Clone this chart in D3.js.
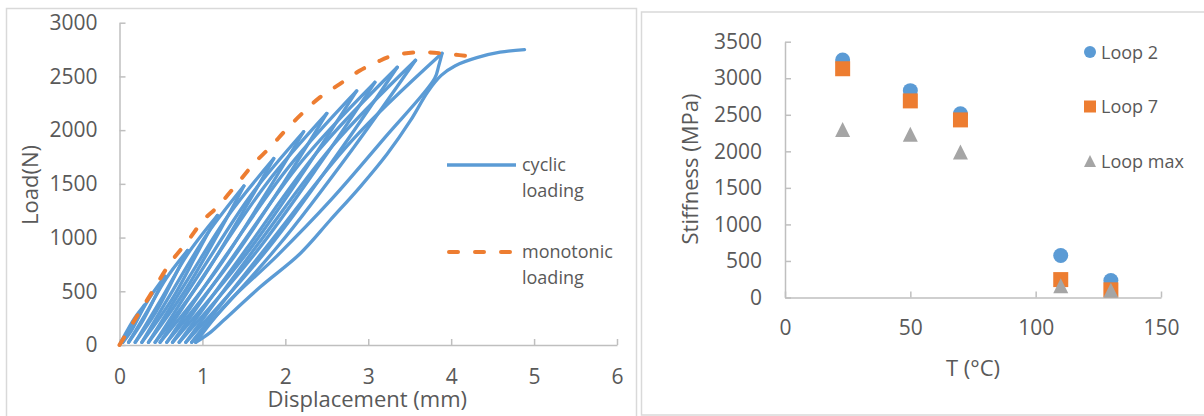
<!DOCTYPE html>
<html lang="en">
<head>
<meta charset="UTF-8">
<title>Cyclic loading and stiffness</title>
<script src="https://d3js.org/d3.v7.min.js"></script>
<style>
    body { margin: 0; background: #fff; }
    svg { display: block; font-family: "Open Sans", sans-serif; }
    .axis path, .axis line { stroke: #bfbfbf; stroke-width: 1.5; }
    .axis text { fill: #595959; font-size: 21px; }
    .title { fill: #595959; font-size: 22px; }
    .legend { fill: #595959; font-size: 18px; }
</style>
</head>
<body>
<svg id="chart" width="1204" height="416"></svg>
<script>
// ---- left chart: load vs displacement ----
const dispTicks = [0, 1, 2, 3, 4, 5, 6];
const loadTicks = [0, 500, 1000, 1500, 2000, 2500, 3000];

// monotonic test [displacement mm, load N]
const monotonic = [[0, 0], [0.17, 216], [0.37, 464], [0.61, 761], [0.83, 975], [1.01, 1161],
    [1.18, 1285], [1.42, 1502], [1.62, 1688], [1.82, 1843], [2.02, 2013], [2.24, 2183],
    [2.42, 2307], [2.66, 2431], [2.90, 2555], [3.10, 2632], [3.30, 2694], [3.63, 2725],
    [3.95, 2710], [4.31, 2679]];

// cyclic test, loading branches
const cyclicUp = [
    [[0, 0], [0.09, 130], [0.19, 259], [0.30, 370]],
    [[0.04, 25], [0.20, 224], [0.37, 448], [0.55, 640]],
    [[0.11, 25], [0.33, 308], [0.56, 616], [0.82, 880]],
    [[0.19, 25], [0.50, 422], [0.82, 844], [1.18, 1205]],
    [[0.27, 25], [0.65, 518], [1.06, 1036], [1.50, 1480]],
    [[0.35, 25], [0.82, 607], [1.32, 1215], [1.86, 1735]],
    [[0.43, 25], [0.99, 695], [1.58, 1390], [2.22, 1985]],
    [[0.49, 25], [1.11, 754], [1.78, 1509], [2.50, 2155]],
    [[0.57, 25], [1.28, 828], [2.04, 1656], [2.86, 2365]],
    [[0.64, 25], [1.40, 856], [2.20, 1712], [3.08, 2445]],
    [[0.72, 25], [1.54, 905], [2.40, 1810], [3.35, 2585]],
    [[0.80, 25], [1.66, 928], [2.57, 1855], [3.57, 2650]],
    [[0.87, 25], [1.81, 950], [2.80, 1900], [3.89, 2715]]
];

// cyclic test, unloading branches
const cyclicDown = [
    [[0.30, 370], [0.23, 259], [0.14, 130], [0.04, 25]],
    [[0.55, 640], [0.43, 448], [0.28, 224], [0.11, 25]],
    [[0.82, 880], [0.65, 616], [0.44, 308], [0.19, 25]],
    [[1.18, 1205], [0.93, 844], [0.63, 422], [0.27, 25]],
    [[1.50, 1480], [1.19, 1036], [0.80, 518], [0.35, 25]],
    [[1.86, 1735], [1.47, 1215], [0.99, 607], [0.43, 25]],
    [[2.22, 1985], [1.75, 1390], [1.17, 695], [0.49, 25]],
    [[2.50, 2155], [1.98, 1509], [1.32, 754], [0.57, 25]],
    [[2.86, 2365], [2.26, 1656], [1.51, 828], [0.64, 25]],
    [[3.08, 2445], [2.44, 1712], [1.64, 856], [0.72, 25]],
    [[3.35, 2585], [2.66, 1810], [1.80, 905], [0.80, 25]],
    [[3.57, 2650], [2.84, 1855], [1.92, 928], [0.87, 25]],
    [[3.89, 2715], [3.85, 2600], [3.80, 2480], [3.20, 1930], [2.55, 1350], [1.90, 830], [1.30, 390], [0.92, 25]]
];

// last reloading up to failure
const finalReload = [[0.92, 25], [1.10, 120], [1.26, 232], [1.70, 542], [2.18, 852], [2.54, 1161],
    [2.90, 1470], [3.23, 1780], [3.51, 2090], [3.72, 2360], [3.88, 2510], [4.05, 2600],
    [4.31, 2675], [4.59, 2725], [4.885, 2750]];

// ---- right chart: stiffness vs temperature ----
const tempTicks = [0, 50, 100, 150];
const stiffTicks = [0, 500, 1000, 1500, 2000, 2500, 3000, 3500];
const temps = [23, 50, 70, 110, 130];
const loop2 = [3250, 2830, 2515, 575, 233];
const loop7 = [3130, 2690, 2430, 245, 105];
const loopMax = [2300, 2235, 1990, 160, 100];

const blue = "#5b9bd5", orange = "#ed7d31", grey = "#a5a5a5";
const fmt = d3.format("d");

const svg = d3.select("#chart");

// panel frames
svg.append("rect").attr("x", 6.5).attr("y", 8.5).attr("width", 630).attr("height", 420)
    .attr("fill", "none").attr("stroke", "#d9d9d9").attr("stroke-width", 1.5);
svg.append("rect").attr("x", 641.5).attr("y", 12).attr("width", 600).attr("height", 403)
    .attr("fill", "none").attr("stroke", "#d9d9d9").attr("stroke-width", 1.5);

// ---------- left ----------
const x1 = d3.scaleLinear().domain([0, 6]).range([119.5, 617]);
const y1 = d3.scaleLinear().domain([0, 3000]).range([345, 22.7]);

svg.append("g").attr("class", "axis").attr("transform", `translate(0,${y1(0)})`)
    .call(d3.axisBottom(x1).tickValues(dispTicks).tickFormat(fmt)
        .tickSizeInner(-6).tickSizeOuter(0).tickPadding(24));
svg.append("g").attr("class", "axis").attr("transform", `translate(${x1(0)},0)`)
    .call(d3.axisLeft(y1).tickValues(loadTicks).tickFormat(fmt)
        .tickSizeInner(-6).tickSizeOuter(0).tickPadding(22));
svg.selectAll(".axis").attr("font-family", null).attr("font-size", null);

const line1 = d3.line().x(d => x1(d[0])).y(d => y1(d[1])).curve(d3.curveCatmullRom.alpha(0.5));

const cyc = svg.append("g").attr("fill", "none").attr("stroke", blue).attr("stroke-width", 3.3)
    .attr("stroke-linecap", "round").attr("stroke-linejoin", "round");
cyclicUp.forEach((seg, i) => {
    cyc.append("path").attr("d", line1(seg));
    cyc.append("path").attr("d", line1(cyclicDown[i]));
});
cyc.append("path").attr("d", line1(finalReload));

svg.append("path").attr("d", line1(monotonic)).attr("fill", "none")
    .attr("stroke", orange).attr("stroke-width", 4).attr("stroke-dasharray", "9,17")
    .attr("stroke-linecap", "round");

// left legend
svg.append("line").attr("x1", 447).attr("x2", 516).attr("y1", 165).attr("y2", 165)
    .attr("stroke", blue).attr("stroke-width", 3.3);
svg.append("line").attr("x1", 449).attr("x2", 516).attr("y1", 252).attr("y2", 252)
    .attr("stroke", orange).attr("stroke-width", 4).attr("stroke-dasharray", "9,17")
    .attr("stroke-linecap", "round");
[["cyclic", 171], ["loading", 197], ["monotonic", 258], ["loading", 284]].forEach(([t, y]) => {
    svg.append("text").attr("class", "legend").attr("x", 522).attr("y", y).text(t);
});

svg.append("text").attr("class", "title").attr("text-anchor", "middle")
    .attr("x", (x1(0) + x1(6)) / 2 - 1).attr("y", 407).text("Displacement (mm)");
svg.append("text").attr("class", "title").attr("text-anchor", "middle")
    .attr("transform", "translate(38,185) rotate(-90)").text("Load(N)");

// ---------- right ----------
const x2 = d3.scaleLinear().domain([0, 150]).range([785, 1161]);
const y2 = d3.scaleLinear().domain([0, 3500]).range([297.5, 41.7]);

svg.append("g").attr("class", "axis").attr("transform", `translate(0,${y2(0)})`)
    .call(d3.axisBottom(x2).tickValues(tempTicks).tickFormat(fmt)
        .tickSizeInner(-6).tickSizeOuter(0).tickPadding(23));
svg.append("g").attr("class", "axis").attr("transform", `translate(${x2(0)},0)`)
    .call(d3.axisLeft(y2).tickValues(stiffTicks).tickFormat(fmt)
        .tickSizeInner(-6).tickSizeOuter(0).tickPadding(23));
svg.selectAll(".axis").attr("font-family", null).attr("font-size", null);

// triangle centred on its bounding box, like the spreadsheet marker
const boxTriangle = {
    draw(ctx, size) {
        const h = Math.sqrt(size);
        ctx.moveTo(0, -h / 2);
        ctx.lineTo(h / 2, h / 2);
        ctx.lineTo(-h / 2, h / 2);
        ctx.closePath();
    }
};

const series = [
    { name: "Loop 2", values: loop2, color: blue, type: d3.symbolCircle, size: Math.PI * 7.5 * 7.5, lsize: Math.PI * 36 },
    { name: "Loop 7", values: loop7, color: orange, type: d3.symbolSquare, size: 225, lsize: 144 },
    { name: "Loop max", values: loopMax, color: grey, type: boxTriangle, size: 225, lsize: 144 }
];

series.forEach((s, k) => {
    svg.append("g").selectAll("path").data(temps).join("path")
        .attr("transform", (t, i) => `translate(${x2(t)},${y2(s.values[i])})`)
        .attr("d", d3.symbol().type(s.type).size(s.size)())
        .attr("fill", s.color);
    const ly = 52 + k * 54.5;
    svg.append("path").attr("transform", `translate(1090,${ly})`)
        .attr("d", d3.symbol().type(s.type).size(s.lsize)()).attr("fill", s.color);
    svg.append("text").attr("class", "legend").attr("x", 1101).attr("y", ly + 6.5).text(s.name);
});

svg.append("text").attr("class", "title").attr("text-anchor", "middle")
    .attr("x", 973).attr("y", 376).text("T (°C)");
svg.append("text").attr("class", "title").attr("text-anchor", "middle")
    .attr("transform", "translate(698,169) rotate(-90)").text("Stiffness (MPa)");
</script>
</body>
</html>
